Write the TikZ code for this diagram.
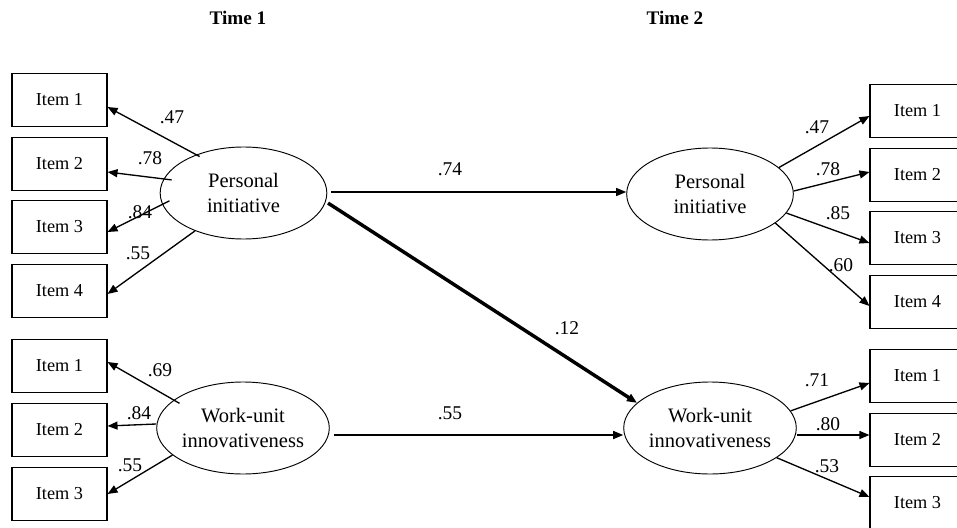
\documentclass[tikz,border=0pt]{standalone}
\usepackage{fontspec}
\setmainfont{Liberation Serif}
\usetikzlibrary{arrows.meta,shapes.geometric}

\begin{document}
\begin{tikzpicture}[x=0.75pt,y=-0.75pt,
  item/.style={draw,line width=0.8pt,minimum width=71.25pt,minimum height=39.75pt,
    inner sep=0pt,font=\fontsize{13.7}{16}\selectfont},
  latent/.style={draw,ellipse,line width=0.7pt,minimum width=125pt,minimum height=69pt,
    inner sep=0pt,align=center,font=\fontsize{15.4}{18.75}\selectfont},
  coef/.style={inner sep=0pt,font=\fontsize{14.6}{17}\selectfont},
  arr/.style={-{Triangle[length=7.5pt,width=6pt]},line width=1pt},
  title/.style={font=\fontsize{14.4}{17}\selectfont\bfseries}]
\useasboundingbox (0,0) rectangle (957,528);

% time labels
\node[title] (t1) at (238,18) {Time 1};
\node[title] (t2) at (675,18) {Time 2};

% latent factors
\node[latent] (lpi) at (243.5,193) {Personal\\initiative};
\node[latent] (lwi) at (243,428) {Work-unit\\innovativeness};
\node[latent] (rpi) at (710,194) {Personal\\initiative};
\node[latent] (rwi) at (710,428) {Work-unit\\innovativeness};

% indicators, time 1
\node[item] (li1) at (59.5,100) {Item 1};
\node[item] (li2) at (59.5,164) {Item 2};
\node[item] (li3) at (59.5,227) {Item 3};
\node[item] (li4) at (59.5,291) {Item 4};
\node[item] (lw1) at (59.5,366) {Item 1};
\node[item] (lw2) at (59.5,430) {Item 2};
\node[item] (lw3) at (59.5,494) {Item 3};

% indicators, time 2
\node[item] (ri1) at (917.5,111) {Item 1};
\node[item] (ri2) at (917.5,175) {Item 2};
\node[item] (ri3) at (917.5,238) {Item 3};
\node[item] (ri4) at (917.5,302) {Item 4};
\node[item] (rw1) at (917.5,376) {Item 1};
\node[item] (rw2) at (917.5,440) {Item 2};
\node[item] (rw3) at (917.5,503) {Item 3};

% loadings, time 1
\draw[arr,shorten <=-3pt] (lpi.141) -- ([yshift=-5.25pt]li1.east);
\draw[arr,shorten <=-6pt] (lpi.170) -- ([yshift=-6pt]li2.east);
\draw[arr,shorten <=-6pt] (lpi.188) -- ([yshift=-3.75pt]li3.east);
\draw[arr] (lpi.218) -- ([yshift=-2.25pt]li4.east);
\draw[arr,shorten <=-5pt] (lwi.158) -- ([yshift=3pt]lw1.east);
\draw[arr] ([yshift=3pt]lwi.west) -- ([yshift=3pt]lw2.east);
\draw[arr] (lwi.201) -- (lw3.east);

% loadings, time 2
\draw[arr] (rpi.21) -- ([yshift=-3.75pt]ri1.west);
\draw[arr] (rpi.2) -- ([yshift=2.25pt]ri2.west);
\draw[arr] (rpi.346) -- ([yshift=-3.75pt]ri3.west);
\draw[arr] (rpi.336) -- ([yshift=-3pt]ri4.west);
\draw[arr] (rwi.12) -- ([yshift=-5.25pt]rw1.west);
\draw[arr] ([yshift=-5.25pt]rwi.east) -- ([yshift=3.75pt]rw2.west);
\draw[arr] (rwi.336) -- ([yshift=4.5pt]rw3.west);

% structural paths
\draw[arr,shorten <=3pt] ([yshift=0.75pt]lpi.east) -- ([yshift=1.5pt]rpi.west);
\draw[arr,shorten <=3pt] ([yshift=-5.25pt]lwi.east) -- ([yshift=-5.25pt]rwi.west);
\draw[arr,line width=2.6pt,shorten <=2pt] (lpi.354) -- (rwi.161);

% coefficients
\node[coef] (c1) at (172,117) {.47};
\node[coef] (c2) at (150,158) {.78};
\node[coef] (c3) at (140,212) {.84};
\node[coef] (c4) at (138,253) {.55};
\node[coef] (c5) at (160,370) {.69};
\node[coef] (c6) at (139,413) {.84};
\node[coef] (c7) at (130,465) {.55};
\node[coef] (c8) at (450,169) {.74};
\node[coef] (c9) at (450,413) {.55};
\node[coef] (c10) at (567,328) {.12};
\node[coef] (c11) at (817,127) {.47};
\node[coef] (c12) at (828,169) {.78};
\node[coef] (c13) at (838,213) {.85};
\node[coef] (c14) at (841,265) {.60};
\node[coef] (c15) at (817,380) {.71};
\node[coef] (c16) at (828,424) {.80};
\node[coef] (c17) at (827,466) {.53};
\end{tikzpicture}
\end{document}
